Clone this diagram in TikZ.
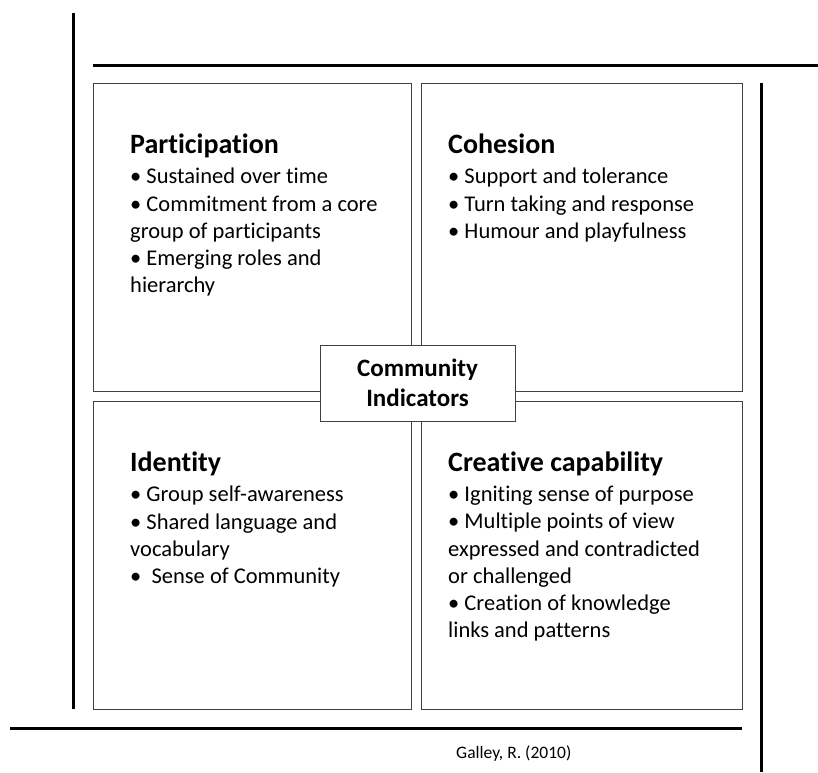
\documentclass[tikz,border=0pt]{standalone}
\usepackage{fontspec}
\setmainfont{Carlito}[Ligatures={NoCommon,NoRequired,NoContextual}]
\usepackage{tikz}

\tikzset{
  quad/.style={draw=black!75, line width=0.9pt, minimum width=318pt, minimum height=308pt, inner sep=0pt},
  head/.style={anchor=base west, inner sep=0pt, font=\fontsize{28}{33}\selectfont\bfseries},
  items/.style={anchor=north west, inner sep=0pt, align=left, font=\fontsize{22.5}{27.2}\selectfont},
  frameline/.style={line width=3pt, black}
}

\begin{document}
\begin{tikzpicture}[x=1pt, y=-1pt]
\useasboundingbox (0,0) rectangle (818,772);
\node [quad] (tl) at (252,237) {};
\node [quad, minimum width=321pt] (tr) at (581.5,237) {};
\node [quad] (bl) at (252,555) {};
\node [quad, minimum width=321pt] (br) at (581.5,555) {};
\node [draw=black!75, line width=0.9pt, fill=white, minimum width=195pt, minimum height=76pt, align=center,
  font=\fontsize{25}{30}\selectfont\bfseries] (ci) at (417.5,383) {Community\\Indicators};
\node [head] (tlh) at (130,153) {Participation};
\node [items] (tlb) at (130,168) {• Sustained over time\\• Commitment from a core\\group of participants\\• Emerging roles and\\hierarchy};
\node [head] (trh) at (448,153) {Cohesion};
\node [items] (trb) at (448,168) {• Support and tolerance\\• Turn taking and response\\• Humour and playfulness};
\node [head] (blh) at (130,471) {Identity};
\node [items] (blb) at (130,486) {• Group self-awareness\\• Shared language and\\vocabulary\\•\ \ Sense of Community};
\node [head] (brh) at (448,471) {Creative capability};
\node [items] (brb) at (448,486) {• Igniting sense of purpose\\• Multiple points of view\\expressed and contradicted\\or challenged\\• Creation of knowledge\\links and patterns};
\node [anchor=base west, inner sep=0pt, font=\fontsize{17.5}{21}\selectfont] (cite) at (456,758) {Galley, R. (2010)};
\coordinate (lt) at (73,13);
\coordinate (tr0) at (818,65);
\coordinate (rb) at (761,772);
\coordinate (bl0) at (10,728);
\draw [frameline] (lt) -- (lt |- bl.south);
\draw [frameline] (bl.west |- tr0) -- (tr0);
\draw [frameline] (rb |- tr.north) -- (rb);
\draw [frameline] (bl0) -- (bl0 -| br.east);
\end{tikzpicture}
\end{document}
